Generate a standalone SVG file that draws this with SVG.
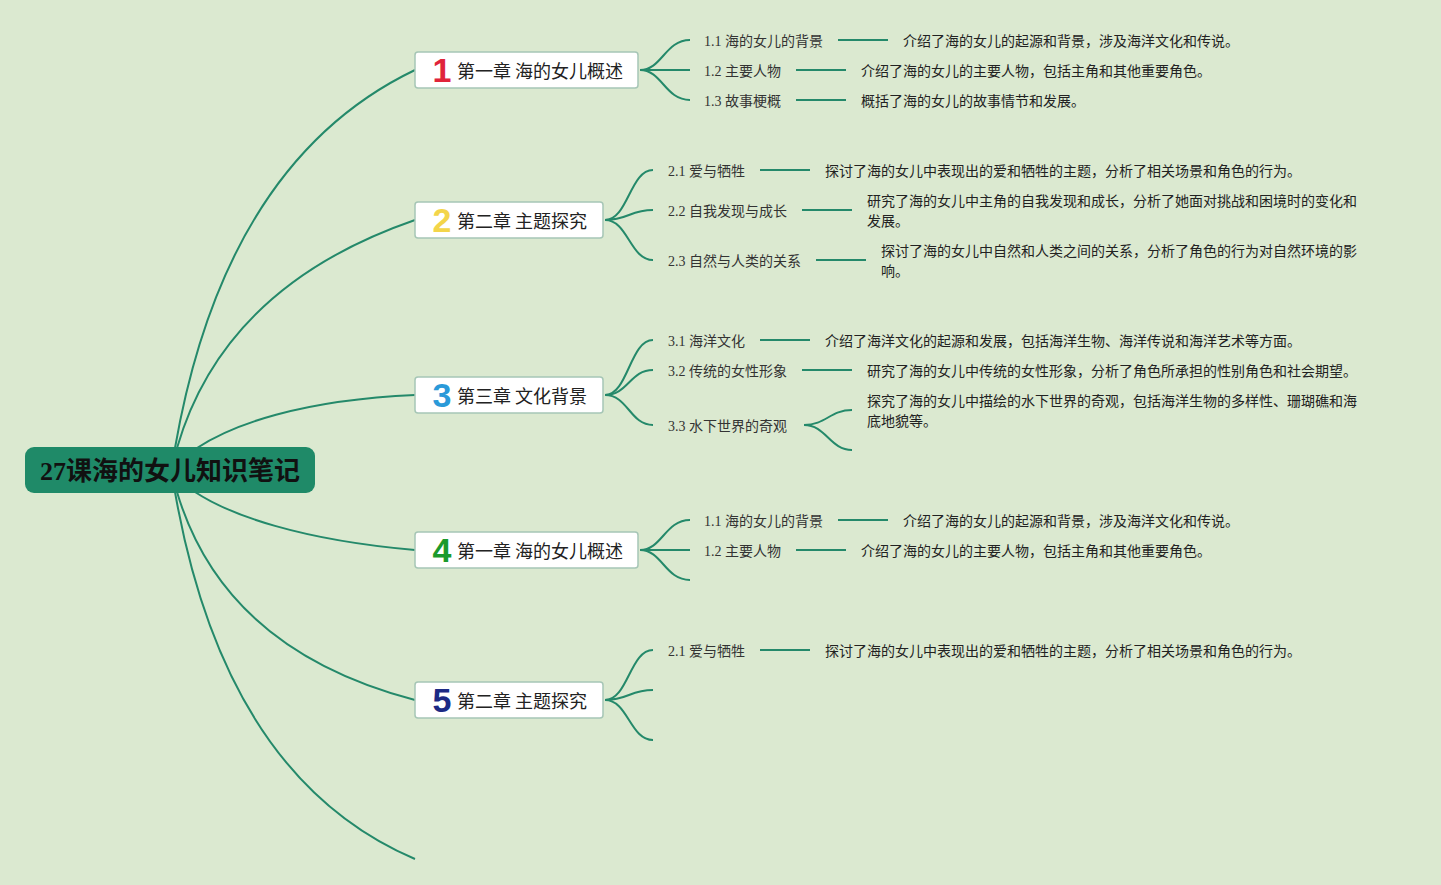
<svg xmlns="http://www.w3.org/2000/svg" width="1441" height="885" viewBox="0 0 1441 885">
<style>
.bg{fill:#dbe9d0}
.conn path{fill:none;stroke:#24896a;stroke-width:2}
.box{fill:#ffffff;stroke:#a6c6b6;stroke-width:1.5}
.num{font-family:"Liberation Sans","Noto Sans CJK SC",sans-serif;font-weight:bold;font-size:34px;text-anchor:middle}
.ch{font-family:"Noto Sans CJK SC",sans-serif;font-size:18px;fill:#222;dominant-baseline:central}
.sub{font-family:"Liberation Serif","Noto Sans CJK SC",serif;font-size:14px;fill:#333;dominant-baseline:central}
.desc{font-family:"Noto Sans CJK SC",sans-serif;font-size:14px;fill:#222;dominant-baseline:central}
.root{font-family:"Liberation Serif","Noto Sans CJK SC",serif;font-weight:bold;font-size:26px;fill:#111;text-anchor:middle;dominant-baseline:central}
</style>
<rect class="bg" x="0" y="0" width="1441" height="885"/>
<g id="connectors" class="conn">
<path d="M175,448 Q225,161 415,70"/>
<path d="M177,448 Q224,286 415,220"/>
<path d="M197,448 C232,425 300,400 415,395"/>
<path d="M195,492 C230,515 300,540 415,550"/>
<path d="M177,492 Q224,650 415,700"/>
<path d="M175,492 Q225,778 415,859"/>
<path d="M640,70 C662,70 665,40 690,40"/>
<path d="M640,70 L690,70"/>
<path d="M640,70 C662,70 665,100 690,100"/>
<path d="M838,40 H888"/><path d="M796,70 H846"/><path d="M796,100 H846"/>
<path d="M605,220 C628,220 630,170 653,170"/>
<path d="M605,220 C628,220 630,210 653,210"/>
<path d="M605,220 C628,220 630,260 653,260"/>
<path d="M760,170 H810"/><path d="M802,210 H852"/><path d="M816,260 H866"/>
<path d="M605,395 C628,395 630,340 653,340"/>
<path d="M605,395 C628,395 630,370 653,370"/>
<path d="M605,395 C628,395 630,425 653,425"/>
<path d="M760,340 H810"/><path d="M802,370 H852"/>
<path d="M804,425 C826,425 830,410 852,410"/>
<path d="M804,425 C826,425 830,450 852,450"/>
<path d="M640,550 C662,550 665,520 690,520"/>
<path d="M640,550 L690,550"/>
<path d="M640,550 C662,550 665,580 690,580"/>
<path d="M838,520 H888"/><path d="M796,550 H846"/>
<path d="M605,700 C628,700 630,650 653,650"/>
<path d="M605,700 C628,700 630,690 653,690"/>
<path d="M605,700 C628,700 630,740 653,740"/>
<path d="M760,650 H810"/>
</g>
<g id="root">
<rect x="25" y="447" width="290" height="46" rx="9" fill="#1f8a68"/>
<text class="root" x="170" y="471">27课海的女儿知识笔记</text>
</g>
<g id="ch1">
<rect class="box" x="415" y="52" width="223" height="36" rx="3"/>
<text class="num" x="442" y="82" fill="#e0243a">1</text>
<text class="ch" x="457" y="70">第一章 海的女儿概述</text>
</g>
<g id="ch2">
<rect class="box" x="415" y="202" width="188" height="36" rx="3"/>
<text class="num" x="442" y="232" fill="#f3d54a">2</text>
<text class="ch" x="457" y="220">第二章 主题探究</text>
</g>
<g id="ch3">
<rect class="box" x="415" y="377" width="188" height="36" rx="3"/>
<text class="num" x="442" y="407" fill="#2a9ad9">3</text>
<text class="ch" x="457" y="395">第三章 文化背景</text>
</g>
<g id="ch4">
<rect class="box" x="415" y="532" width="223" height="36" rx="3"/>
<text class="num" x="442" y="562" fill="#1b9a2c">4</text>
<text class="ch" x="457" y="550">第一章 海的女儿概述</text>
</g>
<g id="ch5">
<rect class="box" x="415" y="682" width="188" height="36" rx="3"/>
<text class="num" x="442" y="712" fill="#1c2a84">5</text>
<text class="ch" x="457" y="700">第二章 主题探究</text>
</g>
<g id="n1-1"><text class="sub" x="704" y="41">1.1 海的女儿的背景</text></g>
<g id="d1-1"><text class="desc" x="903" y="40">介绍了海的女儿的起源和背景，涉及海洋文化和传说。</text></g>
<g id="n1-2"><text class="sub" x="704" y="71">1.2 主要人物</text></g>
<g id="d1-2"><text class="desc" x="861" y="70">介绍了海的女儿的主要人物，包括主角和其他重要角色。</text></g>
<g id="n1-3"><text class="sub" x="704" y="101">1.3 故事梗概</text></g>
<g id="d1-3"><text class="desc" x="861" y="100">概括了海的女儿的故事情节和发展。</text></g>
<g id="n2-1"><text class="sub" x="668" y="171">2.1 爱与牺牲</text></g>
<g id="d2-1"><text class="desc" x="825" y="170">探讨了海的女儿中表现出的爱和牺牲的主题，分析了相关场景和角色的行为。</text></g>
<g id="n2-2"><text class="sub" x="668" y="211">2.2 自我发现与成长</text></g>
<g id="d2-2"><text class="desc" x="867" y="200">研究了海的女儿中主角的自我发现和成长，分析了她面对挑战和困境时的变化和</text><text class="desc" x="867" y="220">发展。</text></g>
<g id="n2-3"><text class="sub" x="668" y="261">2.3 自然与人类的关系</text></g>
<g id="d2-3"><text class="desc" x="881" y="250">探讨了海的女儿中自然和人类之间的关系，分析了角色的行为对自然环境的影</text><text class="desc" x="881" y="270">响。</text></g>
<g id="n3-1"><text class="sub" x="668" y="341">3.1 海洋文化</text></g>
<g id="d3-1"><text class="desc" x="825" y="340">介绍了海洋文化的起源和发展，包括海洋生物、海洋传说和海洋艺术等方面。</text></g>
<g id="n3-2"><text class="sub" x="668" y="371">3.2 传统的女性形象</text></g>
<g id="d3-2"><text class="desc" x="867" y="370">研究了海的女儿中传统的女性形象，分析了角色所承担的性别角色和社会期望。</text></g>
<g id="n3-3"><text class="sub" x="668" y="426">3.3 水下世界的奇观</text></g>
<g id="d3-3"><text class="desc" x="867" y="400">探究了海的女儿中描绘的水下世界的奇观，包括海洋生物的多样性、珊瑚礁和海</text><text class="desc" x="867" y="420">底地貌等。</text></g>
<g id="n4-1"><text class="sub" x="704" y="521">1.1 海的女儿的背景</text></g>
<g id="d4-1"><text class="desc" x="903" y="520">介绍了海的女儿的起源和背景，涉及海洋文化和传说。</text></g>
<g id="n4-2"><text class="sub" x="704" y="551">1.2 主要人物</text></g>
<g id="d4-2"><text class="desc" x="861" y="550">介绍了海的女儿的主要人物，包括主角和其他重要角色。</text></g>
<g id="n5-1"><text class="sub" x="668" y="651">2.1 爱与牺牲</text></g>
<g id="d5-1"><text class="desc" x="825" y="650">探讨了海的女儿中表现出的爱和牺牲的主题，分析了相关场景和角色的行为。</text></g>
</svg>
